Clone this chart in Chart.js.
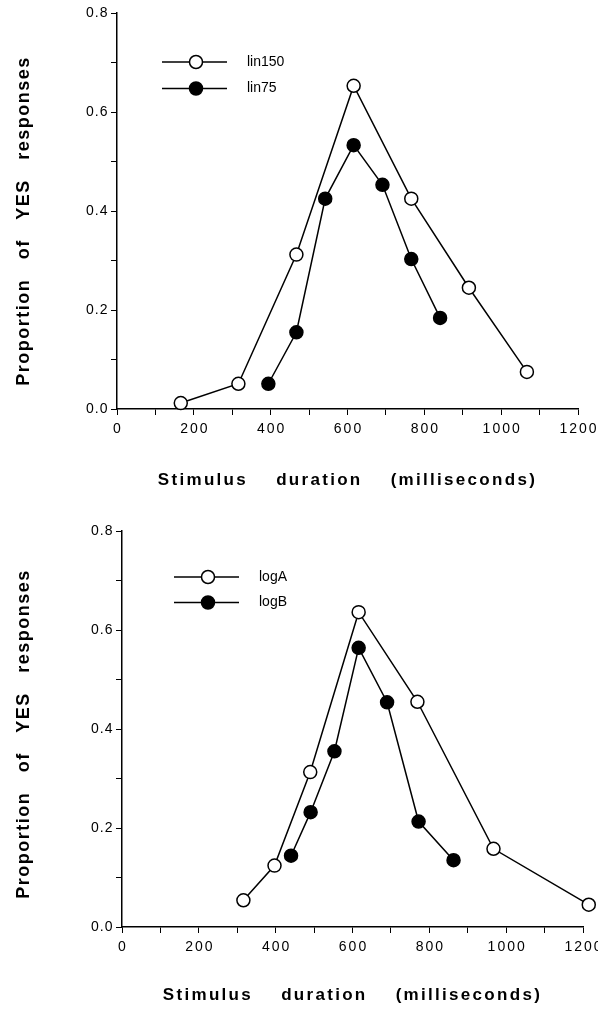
<!DOCTYPE html>
<html lang="en">
<head>
    <meta charset="UTF-8">
    <title>Proportion of YES responses</title>
    <script src="https://cdn.jsdelivr.net/npm/chart.js"></script>
    <style>
        body { margin: 0; background: #fff; }
        .box { position: absolute; left: 0; width: 598px; }
    </style>
</head>
<body>
    <div class="box" style="top:0;height:505px"><canvas id="topChart"></canvas></div>
    <div class="box" style="top:505px;height:504px"><canvas id="bottomChart"></canvas></div>

    <script>
        // data (duration in ms, proportion of YES)
        const lin150X = [166, 316, 467, 616, 766, 916, 1067];
        const lin150Y = [0.012, 0.051, 0.312, 0.653, 0.425, 0.245, 0.075];
        const lin75X = [394, 467, 542, 616, 691, 766, 841];
        const lin75Y = [0.051, 0.155, 0.425, 0.533, 0.453, 0.303, 0.184];

        const logAX = [316, 397, 490, 616, 769, 967, 1215];
        const logAY = [0.054, 0.124, 0.313, 0.636, 0.455, 0.158, 0.045];
        const logBX = [440, 491, 553, 616, 690, 772, 863];
        const logBY = [0.144, 0.232, 0.355, 0.564, 0.454, 0.213, 0.135];

        const xTicks = [0, 200, 400, 600, 800, 1000, 1200];
        const yTicks = [0.0, 0.2, 0.4, 0.6, 0.8];

        const FONT = "'Liberation Sans', Arial, sans-serif";
        Chart.defaults.font.family = FONT;
        Chart.defaults.color = '#000';

        function pts(xs, ys) {
            return xs.map((x, i) => ({x: x, y: ys[i]}));
        }

        function series(label, xs, ys, filled) {
            return {
                label: label,
                data: pts(xs, ys),
                showLine: true,
                borderColor: '#000',
                borderWidth: 1.5,
                pointRadius: 6.5,
                pointHoverRadius: 6.5,
                pointBorderWidth: 1.5,
                pointBorderColor: '#000',
                pointBackgroundColor: filled ? '#000' : '#fff',
                backgroundColor: filled ? '#000' : '#fff',
                clip: false
            };
        }

        // the old typewriter look: spread the letters of labels and titles a bit
        function spaced(s, labelSp, titleSp, titleDx, titleDy) {
            if (s._spaced) return;
            s._spaced = true;
            const dl = s.drawLabels, dt = s.drawTitle;
            s.drawLabels = function (a) {
                const c = this.ctx;
                c.save();
                c.letterSpacing = labelSp + 'px';
                c.translate(labelSp / 2, 0);
                dl.call(this, a);
                c.restore();
            };
            s.drawTitle = function (a) {
                const c = this.ctx;
                c.save();
                c.letterSpacing = titleSp + 'px';
                c.translate(titleDx, titleDy);
                dt.call(this, a);
                c.restore();
            };
        }

        // legend drawn at the top left of the plot, line with a marker in the middle
        const legendPlugin = {
            id: 'figLegend',
            afterDatasetsDraw(chart, args, opts) {
                const ctx = chart.ctx;
                const a = chart.chartArea;
                ctx.save();
                chart.data.datasets.forEach((ds, i) => {
                    const y = a.top + opts.dy + i * opts.gap;
                    const x0 = a.left + opts.dx;
                    ctx.strokeStyle = '#000';
                    ctx.lineWidth = 1.5;
                    ctx.beginPath();
                    ctx.moveTo(x0, y);
                    ctx.lineTo(x0 + 65, y);
                    ctx.stroke();
                    ctx.beginPath();
                    ctx.arc(x0 + 34, y, 6.5, 0, Math.PI * 2);
                    ctx.fillStyle = ds.pointBackgroundColor;
                    ctx.fill();
                    ctx.stroke();
                    ctx.fillStyle = '#000';
                    ctx.font = '14px ' + FONT;
                    ctx.textBaseline = 'middle';
                    ctx.fillText(ds.label, x0 + 85, y);
                });
                ctx.restore();
            }
        };

        function makeChart(id, datasets, geo) {
            const ctx = document.getElementById(id).getContext('2d');
            return new Chart(ctx, {
                type: 'scatter',
                data: { datasets: datasets },
                plugins: [legendPlugin],
                options: {
                    responsive: true,
                    maintainAspectRatio: false,
                    animation: false,
                    layout: { padding: { top: geo.top, right: geo.right, left: 0, bottom: 0 } },
                    plugins: {
                        legend: { display: false },
                        tooltip: { enabled: false },
                        figLegend: { dx: geo.legDx, dy: geo.legDy, gap: geo.legGap }
                    },
                    scales: {
                        x: {
                            type: 'linear',
                            min: 0,
                            max: 1200,
                            afterBuildTicks: s => { s.ticks = []; for (let v = 0; v <= 1200; v += 100) s.ticks.push({value: v}); },
                            ticks: {
                                autoSkip: false,
                                maxRotation: 0,
                                padding: 6,
                                font: { size: 14 },
                                callback: v => xTicks.includes(v) ? String(v) : ''
                            },
                            grid: { drawOnChartArea: false, tickLength: 6, color: '#000', tickWidth: 1 },
                            border: { color: '#000', width: 1.5 },
                            title: {
                                display: true,
                                text: 'Stimulus    duration    (milliseconds)',
                                font: { size: 17, weight: 'bold' },
                                padding: { top: 10, bottom: geo.xtb }
                            },
                            afterFit: s => {
                                s.height = geo.xh; s.paddingLeft = 0; s.paddingRight = 0;
                                spaced(s, 2, 2.3, 0, 0);
                            }
                        },
                        y: {
                            type: 'linear',
                            min: 0,
                            max: 0.8,
                            afterBuildTicks: s => { s.ticks = []; for (let k = 0; k <= 8; k++) s.ticks.push({value: k / 10}); },
                            ticks: {
                                autoSkip: false,
                                padding: 3,
                                font: { size: 14 },
                                callback: v => yTicks.some(t => Math.abs(t - v) < 1e-6) ? v.toFixed(1) : ''
                            },
                            grid: { drawOnChartArea: false, tickLength: 6, color: '#000', tickWidth: 1 },
                            border: { color: '#000', width: 1.5 },
                            title: {
                                display: true,
                                text: 'Proportion   of   YES   responses',
                                font: { size: 18, weight: 'bold' },
                                padding: { top: 13, bottom: 0 }
                            },
                            afterFit: s => {
                                s.width = geo.yw; s.paddingTop = 0; s.paddingBottom = 0;
                                spaced(s, 1, 1.5, 0, geo.ytDy);
                            }
                        }
                    }
                }
            });
        }

        makeChart('topChart', [
            series('lin150', lin150X, lin150Y, false),
            series('lin75', lin75X, lin75Y, true)
        ], { top: 13, right: 20, xh: 96, xtb: 14, yw: 117, ytDy: 10, legDx: 45, legDy: 49, legGap: 26.5 });

        makeChart('bottomChart', [
            series('logA', logAX, logAY, false),
            series('logB', logBX, logBY, true)
        ], { top: 26, right: 15, xh: 82, xtb: 3, yw: 122, ytDy: 5, legDx: 52, legDy: 46, legGap: 25.5 });
    </script>
</body>
</html>
